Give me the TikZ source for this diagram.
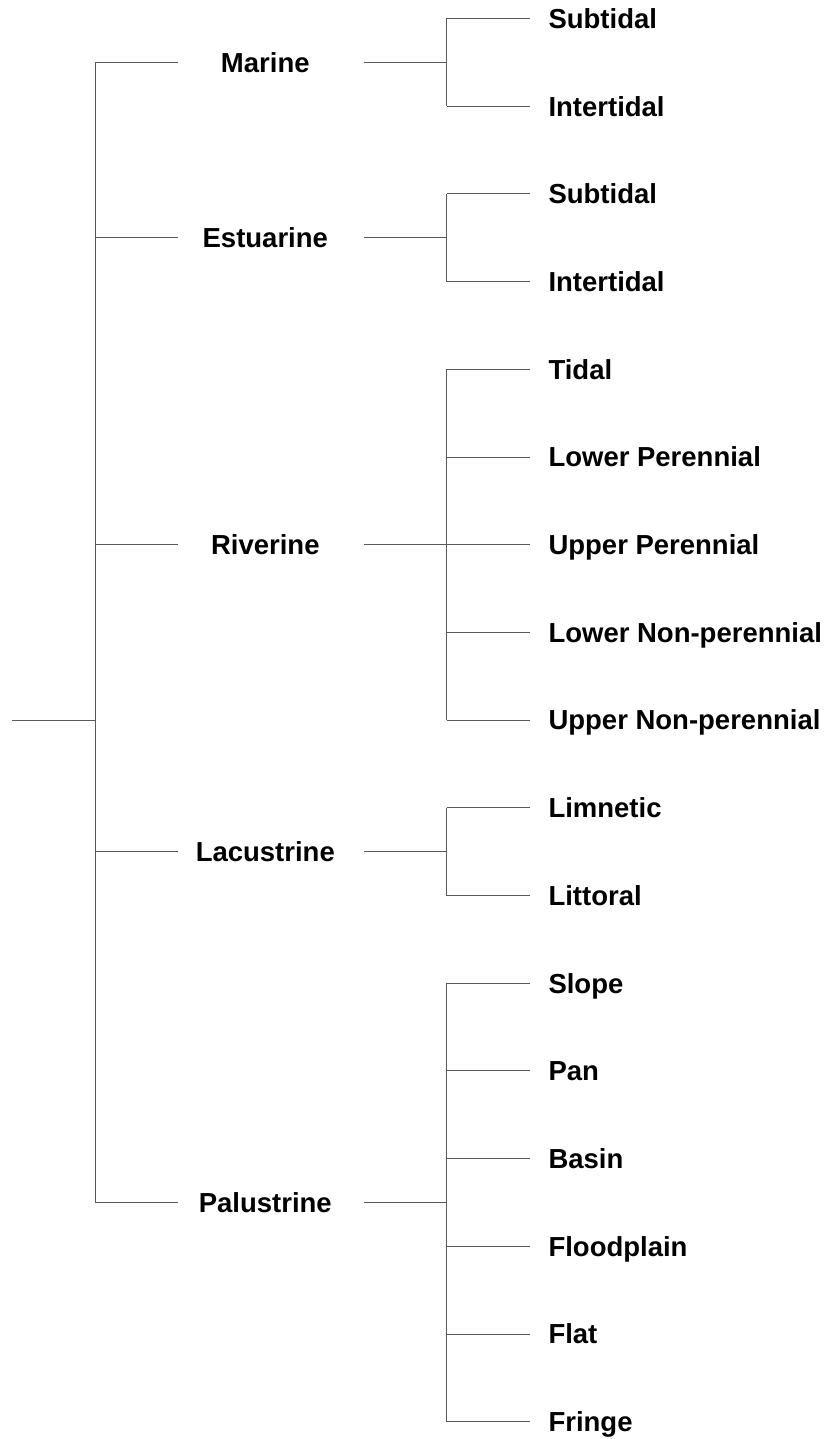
\documentclass[tikz,border=0pt]{standalone}
\usepackage{fontspec}
\setmainfont{Liberation Sans}
\begin{document}
\begin{tikzpicture}[x=1pt,y=-1pt,
  conn/.style={draw=black!65, line width=1pt},
  lbl/.style={font=\bfseries\fontsize{27.5}{30}\selectfont, inner sep=0pt, text height=19.7pt, text depth=0pt}]
\useasboundingbox (0,0) rectangle (830,1439);
% leaves
\foreach \i/\t in {0/Subtidal,1/Intertidal,2/Subtidal,3/Intertidal,4/Tidal,5/Lower Perennial,6/Upper Perennial,7/Lower Non-perennial,8/Upper Non-perennial,9/Limnetic,10/Littoral,11/Slope,12/Pan,13/Basin,14/Floodplain,15/Flat,16/Fringe}{
  \pgfmathsetmacro\yy{18.5+87.7*\i}
  \node[lbl,anchor=west] (leaf\i) at (548.3,\yy) {\t};
  \coordinate (lj\i) at (446.7,\yy);
  \coordinate (le\i) at (530,\yy);
  \draw[conn] (lj\i) -- (le\i);
}
% level one
\foreach \n/\s/\e in {Marine/0/1,Estuarine/2/3,Riverine/4/8,Lacustrine/9/10,Palustrine/11/16}{
  \pgfmathsetmacro\yy{18.5+87.7*(\s+\e)/2}
  \node[lbl,anchor=center] (c\n) at (265.3,\yy) {\n};
  \coordinate (cl\n) at (95,\yy);
  \coordinate (cr\n) at (177.7,\yy);
  \coordinate (dl\n) at (364,\yy);
  \coordinate (dj\n) at (446.7,\yy);
  \draw[conn] (cl\n) -- (cr\n);
  \draw[conn] (dl\n) -- (dj\n);
  \draw[conn] (lj\s) -- (lj\e);
}
% trunk
\draw[conn] (clMarine) -- (clPalustrine);
\coordinate (root) at (11.7,720);
\coordinate (rootj) at (95,720);
\draw[conn] (root) -- (rootj);
\end{tikzpicture}
\end{document}
